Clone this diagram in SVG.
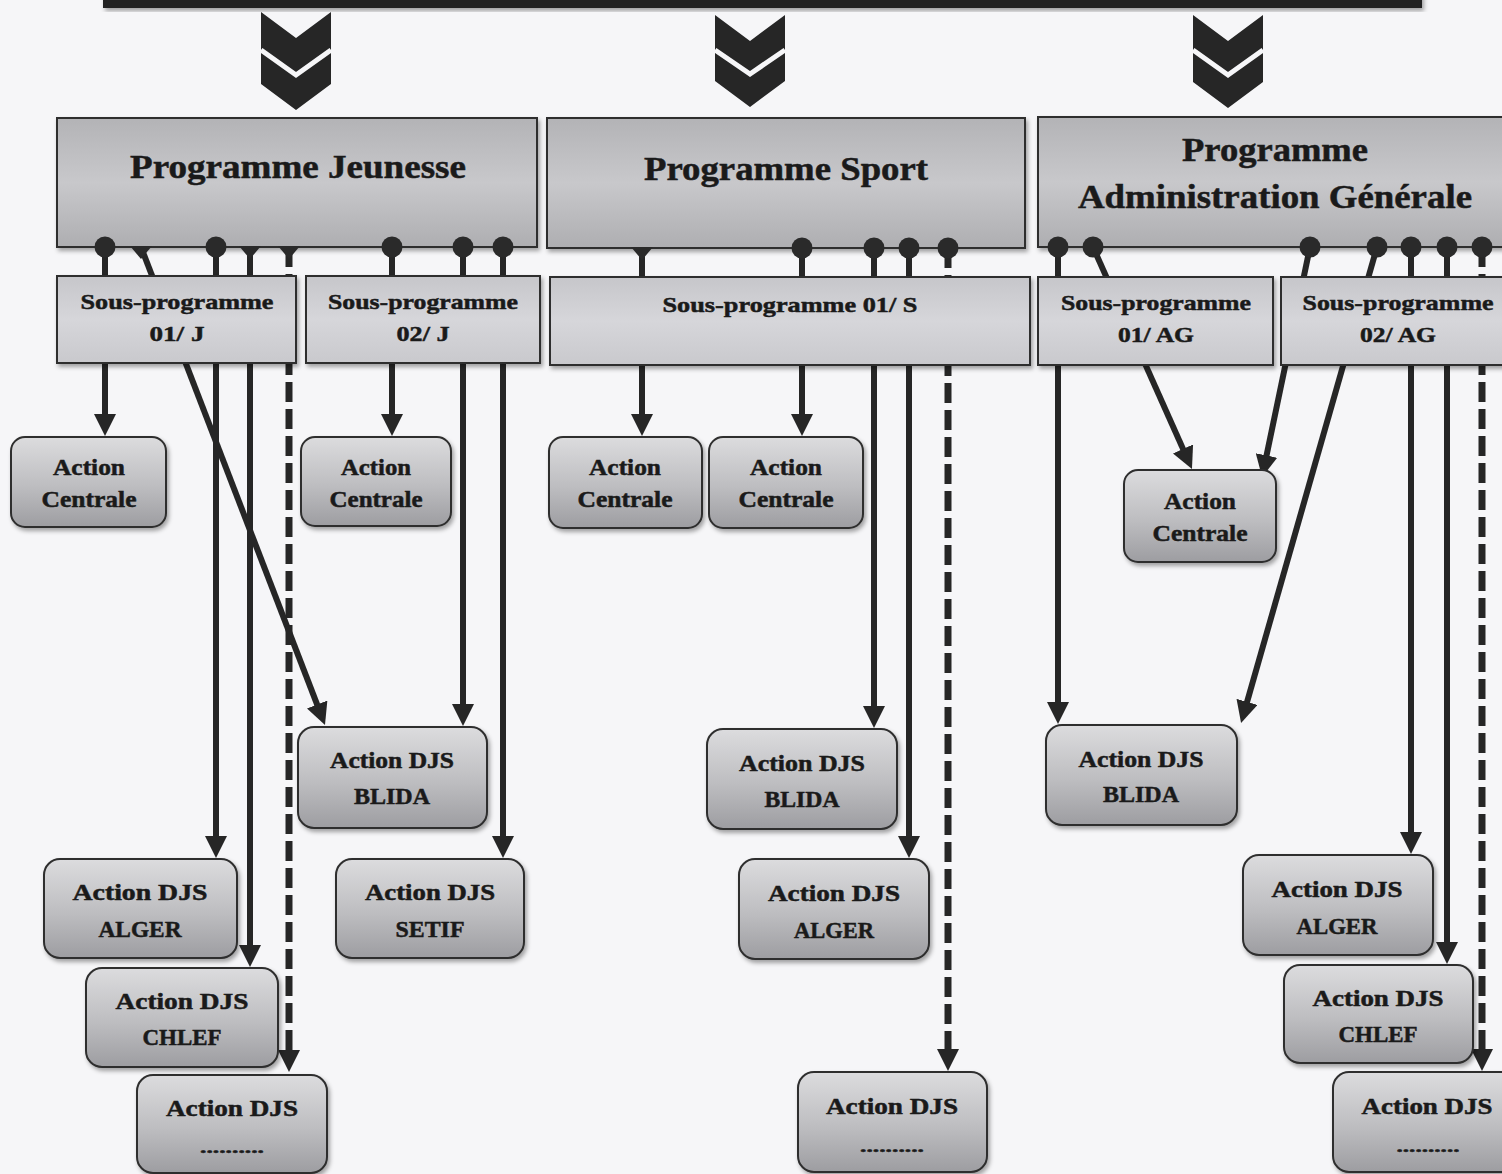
<svg xmlns="http://www.w3.org/2000/svg" width="1502" height="1174" viewBox="0 0 1502 1174">
<style>
text{font-family:"Liberation Serif","Times New Roman",serif;font-weight:bold;fill:#1a1a1a;stroke:#1a1a1a;stroke-width:0.5;text-anchor:middle}
.pt{font-size:33px}
.st{font-size:22px}
.at{font-size:23px}
.dt{font-size:16px}
.pbox{fill:url(#gProg);stroke:#2e2e2e;stroke-width:2}
.sbox{fill:url(#gSub);stroke:#2e2e2e;stroke-width:2}
.abox{fill:url(#gAct);stroke:#2e2e2e;stroke-width:2}
.ln{fill:none;stroke:#262626;stroke-width:6}
.dash{stroke-dasharray:20 7;stroke-width:7}
.chev{fill:#262626}
.vline{fill:none;stroke:#f6f6f8;stroke-width:5}
</style>
<defs>
<linearGradient id="gProg" x1="0" y1="0" x2="0" y2="1">
<stop offset="0" stop-color="#b3b3b6"/>
<stop offset="0.5" stop-color="#c8c8cb"/>
<stop offset="1" stop-color="#aeaeb1"/>
</linearGradient>
<linearGradient id="gSub" x1="0" y1="0" x2="0" y2="1">
<stop offset="0" stop-color="#c6c6ca"/>
<stop offset="0.5" stop-color="#d6d6da"/>
<stop offset="1" stop-color="#c9c9cd"/>
</linearGradient>
<linearGradient id="gAct" x1="0" y1="0" x2="0" y2="1">
<stop offset="0" stop-color="#dcdcde"/>
<stop offset="0.55" stop-color="#bdbdc0"/>
<stop offset="1" stop-color="#9d9da1"/>
</linearGradient>
<filter id="sh" x="-10%" y="-10%" width="125%" height="130%">
<feDropShadow dx="2" dy="3" stdDeviation="2" flood-color="#000" flood-opacity="0.35"/>
</filter>
<marker id="arr" markerUnits="userSpaceOnUse" markerWidth="22" markerHeight="22" refX="12" refY="11" orient="auto">
<path d="M0,0 L22,11 L0,22 z" fill="#262626"/>
</marker>
<marker id="dot" markerUnits="userSpaceOnUse" markerWidth="22" markerHeight="22" refX="11" refY="11" orient="0">
<circle cx="11" cy="11" r="10.5" fill="#2a2a2a"/>
</marker>
<marker id="tri" markerUnits="userSpaceOnUse" markerWidth="22" markerHeight="14" refX="11" refY="1" orient="0">
<path d="M0,0 L22,0 L11,13 z" fill="#2a2a2a"/>
</marker>
</defs>
<rect x="0" y="0" width="1502" height="1174" fill="#f6f6f8"/>

<g id="topbar">
<rect x="103" y="-10" width="1319" height="18" fill="#222" filter="url(#sh)"/>
</g>
<g id="chevrons">
<polygon class="chev" points="261,12 296,38 331,12 331,84 296,110 261,84"/>
<polyline class="vline" points="261,50 296,75 331,50"/>
<polygon class="chev" points="715,15 750,41 785,15 785,81 750,107 715,81"/>
<polyline class="vline" points="715,50 750,74 785,50"/>
<polygon class="chev" points="1193,15 1228,41 1263,15 1263,82 1228,108 1193,82"/>
<polyline class="vline" points="1193,50 1228,75 1263,50"/>
</g>

<g id="prog-jeunesse">
<rect class="pbox" x="57" y="118" width="480" height="129" filter="url(#sh)"/>
<text class="pt" x="298" y="178" textLength="336" lengthAdjust="spacingAndGlyphs">Programme Jeunesse</text>
</g>
<g id="prog-sport">
<rect class="pbox" x="547" y="118" width="478" height="130" filter="url(#sh)"/>
<text class="pt" x="786" y="180" textLength="284" lengthAdjust="spacingAndGlyphs">Programme Sport</text>
</g>
<g id="prog-ag">
<rect class="pbox" x="1038" y="117" width="480" height="130" filter="url(#sh)"/>
<text class="pt" x="1275" y="161" textLength="186" lengthAdjust="spacingAndGlyphs">Programme</text>
<text class="pt" x="1275" y="208" textLength="394" lengthAdjust="spacingAndGlyphs">Administration Générale</text>
</g>

<g id="connectors">
<path class="ln" d="M105,247 V426" marker-start="url(#dot)" marker-end="url(#arr)"/>
<path class="ln" d="M141,247 L321.4,715.7" marker-start="url(#tri)" marker-end="url(#arr)"/>
<path class="ln" d="M216,247 V848" marker-start="url(#dot)" marker-end="url(#arr)"/>
<path class="ln" d="M250,247 V957" marker-start="url(#tri)" marker-end="url(#arr)"/>
<path class="ln dash" d="M289,247 V1062" marker-start="url(#tri)" marker-end="url(#arr)"/>
<path class="ln" d="M392,247 V426" marker-start="url(#dot)" marker-end="url(#arr)"/>
<path class="ln" d="M463,247 V716" marker-start="url(#dot)" marker-end="url(#arr)"/>
<path class="ln" d="M503,247 V848" marker-start="url(#dot)" marker-end="url(#arr)"/>

<path class="ln" d="M642,248 V426" marker-start="url(#tri)" marker-end="url(#arr)"/>
<path class="ln" d="M802,248 V426" marker-start="url(#dot)" marker-end="url(#arr)"/>
<path class="ln" d="M874,248 V718" marker-start="url(#dot)" marker-end="url(#arr)"/>
<path class="ln" d="M909,248 V848" marker-start="url(#dot)" marker-end="url(#arr)"/>
<path class="ln dash" d="M948,248 V1061" marker-start="url(#dot)" marker-end="url(#arr)"/>

<path class="ln" d="M1058,247 V714" marker-start="url(#dot)" marker-end="url(#arr)"/>
<path class="ln" d="M1093,247 L1187.9,459.9" marker-start="url(#dot)" marker-end="url(#arr)"/>
<path class="ln" d="M1310,247 L1264.1,467.2" marker-start="url(#dot)" marker-end="url(#arr)"/>
<path class="ln" d="M1377,247 L1243.8,713.4" marker-start="url(#dot)" marker-end="url(#arr)"/>
<path class="ln" d="M1411,247 V844" marker-start="url(#dot)" marker-end="url(#arr)"/>
<path class="ln" d="M1447,247 V954" marker-start="url(#dot)" marker-end="url(#arr)"/>
<path class="ln dash" d="M1482,247 V1061" marker-start="url(#dot)" marker-end="url(#arr)"/>
</g>

<g id="sp-01j">
<rect class="sbox" x="57" y="276" width="239" height="87" filter="url(#sh)"/>
<text class="st" x="177" y="309" textLength="193" lengthAdjust="spacingAndGlyphs">Sous-programme</text>
<text class="st" x="177" y="341" textLength="55" lengthAdjust="spacingAndGlyphs">01/ J</text>
</g>
<g id="sp-02j">
<rect class="sbox" x="306" y="276" width="234" height="87" filter="url(#sh)"/>
<text class="st" x="423" y="309" textLength="190" lengthAdjust="spacingAndGlyphs">Sous-programme</text>
<text class="st" x="423" y="341" textLength="53" lengthAdjust="spacingAndGlyphs">02/ J</text>
</g>
<g id="sp-01s">
<rect class="sbox" x="550" y="277" width="480" height="88" filter="url(#sh)"/>
<text class="st" x="790" y="312" textLength="255" lengthAdjust="spacingAndGlyphs">Sous-programme 01/ S</text>
</g>
<g id="sp-01ag">
<rect class="sbox" x="1038" y="277" width="235" height="88" filter="url(#sh)"/>
<text class="st" x="1156" y="310" textLength="190" lengthAdjust="spacingAndGlyphs">Sous-programme</text>
<text class="st" x="1156" y="342" textLength="76" lengthAdjust="spacingAndGlyphs">01/ AG</text>
</g>
<g id="sp-02ag">
<rect class="sbox" x="1281" y="277" width="240" height="88" filter="url(#sh)"/>
<text class="st" x="1398" y="310" textLength="191" lengthAdjust="spacingAndGlyphs">Sous-programme</text>
<text class="st" x="1398" y="342" textLength="76" lengthAdjust="spacingAndGlyphs">02/ AG</text>
</g>

<g id="ac-j1">
<rect class="abox" x="11" y="437" width="155" height="90" rx="14" filter="url(#sh)"/>
<text class="at" x="89" y="475" textLength="72" lengthAdjust="spacingAndGlyphs">Action</text>
<text class="at" x="89" y="507" textLength="95" lengthAdjust="spacingAndGlyphs">Centrale</text>
</g>
<g id="ac-j2">
<rect class="abox" x="301" y="437" width="150" height="89" rx="14" filter="url(#sh)"/>
<text class="at" x="376" y="475" textLength="70" lengthAdjust="spacingAndGlyphs">Action</text>
<text class="at" x="376" y="507" textLength="93" lengthAdjust="spacingAndGlyphs">Centrale</text>
</g>
<g id="ac-s1">
<rect class="abox" x="549" y="437" width="153" height="91" rx="14" filter="url(#sh)"/>
<text class="at" x="625" y="475" textLength="72" lengthAdjust="spacingAndGlyphs">Action</text>
<text class="at" x="625" y="507" textLength="95" lengthAdjust="spacingAndGlyphs">Centrale</text>
</g>
<g id="ac-s2">
<rect class="abox" x="709" y="437" width="154" height="91" rx="14" filter="url(#sh)"/>
<text class="at" x="786" y="475" textLength="72" lengthAdjust="spacingAndGlyphs">Action</text>
<text class="at" x="786" y="507" textLength="95" lengthAdjust="spacingAndGlyphs">Centrale</text>
</g>
<g id="ac-ag">
<rect class="abox" x="1124" y="470" width="152" height="92" rx="14" filter="url(#sh)"/>
<text class="at" x="1200" y="509" textLength="72" lengthAdjust="spacingAndGlyphs">Action</text>
<text class="at" x="1200" y="541" textLength="95" lengthAdjust="spacingAndGlyphs">Centrale</text>
</g>

<g id="djs-blida-j">
<rect class="abox" x="298" y="727" width="189" height="101" rx="16" filter="url(#sh)"/>
<text class="at" x="392" y="768" textLength="124" lengthAdjust="spacingAndGlyphs">Action DJS</text>
<text class="at" x="392" y="804" textLength="76" lengthAdjust="spacingAndGlyphs">BLIDA</text>
</g>
<g id="djs-alger-j">
<rect class="abox" x="44" y="859" width="193" height="99" rx="16" filter="url(#sh)"/>
<text class="at" x="140" y="900" textLength="135" lengthAdjust="spacingAndGlyphs">Action DJS</text>
<text class="at" x="140" y="937" textLength="83" lengthAdjust="spacingAndGlyphs">ALGER</text>
</g>
<g id="djs-setif-j">
<rect class="abox" x="336" y="859" width="188" height="99" rx="16" filter="url(#sh)"/>
<text class="at" x="430" y="900" textLength="130" lengthAdjust="spacingAndGlyphs">Action DJS</text>
<text class="at" x="430" y="937" textLength="69" lengthAdjust="spacingAndGlyphs">SETIF</text>
</g>
<g id="djs-chlef-j">
<rect class="abox" x="86" y="968" width="192" height="99" rx="16" filter="url(#sh)"/>
<text class="at" x="182" y="1009" textLength="133" lengthAdjust="spacingAndGlyphs">Action DJS</text>
<text class="at" x="182" y="1045" textLength="79" lengthAdjust="spacingAndGlyphs">CHLEF</text>
</g>
<g id="djs-etc-j">
<rect class="abox" x="137" y="1075" width="190" height="98" rx="16" filter="url(#sh)"/>
<text class="at" x="232" y="1116" textLength="132" lengthAdjust="spacingAndGlyphs">Action DJS</text>
<text class="dt" x="232" y="1153" textLength="64" lengthAdjust="spacingAndGlyphs">..........</text>
</g>

<g id="djs-blida-s">
<rect class="abox" x="707" y="729" width="190" height="100" rx="16" filter="url(#sh)"/>
<text class="at" x="802" y="771" textLength="126" lengthAdjust="spacingAndGlyphs">Action DJS</text>
<text class="at" x="802" y="807" textLength="75" lengthAdjust="spacingAndGlyphs">BLIDA</text>
</g>
<g id="djs-alger-s">
<rect class="abox" x="739" y="859" width="190" height="100" rx="16" filter="url(#sh)"/>
<text class="at" x="834" y="901" textLength="132" lengthAdjust="spacingAndGlyphs">Action DJS</text>
<text class="at" x="834" y="938" textLength="80" lengthAdjust="spacingAndGlyphs">ALGER</text>
</g>
<g id="djs-etc-s">
<rect class="abox" x="798" y="1072" width="189" height="100" rx="16" filter="url(#sh)"/>
<text class="at" x="892" y="1114" textLength="132" lengthAdjust="spacingAndGlyphs">Action DJS</text>
<text class="dt" x="892" y="1152" textLength="64" lengthAdjust="spacingAndGlyphs">..........</text>
</g>

<g id="djs-blida-ag">
<rect class="abox" x="1046" y="725" width="191" height="100" rx="16" filter="url(#sh)"/>
<text class="at" x="1141" y="767" textLength="125" lengthAdjust="spacingAndGlyphs">Action DJS</text>
<text class="at" x="1141" y="802" textLength="76" lengthAdjust="spacingAndGlyphs">BLIDA</text>
</g>
<g id="djs-alger-ag">
<rect class="abox" x="1243" y="855" width="190" height="100" rx="16" filter="url(#sh)"/>
<text class="at" x="1337" y="897" textLength="131" lengthAdjust="spacingAndGlyphs">Action DJS</text>
<text class="at" x="1337" y="934" textLength="81" lengthAdjust="spacingAndGlyphs">ALGER</text>
</g>
<g id="djs-chlef-ag">
<rect class="abox" x="1284" y="965" width="189" height="98" rx="16" filter="url(#sh)"/>
<text class="at" x="1378" y="1006" textLength="131" lengthAdjust="spacingAndGlyphs">Action DJS</text>
<text class="at" x="1378" y="1042" textLength="79" lengthAdjust="spacingAndGlyphs">CHLEF</text>
</g>
<g id="djs-etc-ag">
<rect class="abox" x="1333" y="1072" width="200" height="100" rx="16" filter="url(#sh)"/>
<text class="at" x="1427" y="1114" textLength="131" lengthAdjust="spacingAndGlyphs">Action DJS</text>
<text class="dt" x="1428" y="1152" textLength="63" lengthAdjust="spacingAndGlyphs">..........</text>
</g>
</svg>
